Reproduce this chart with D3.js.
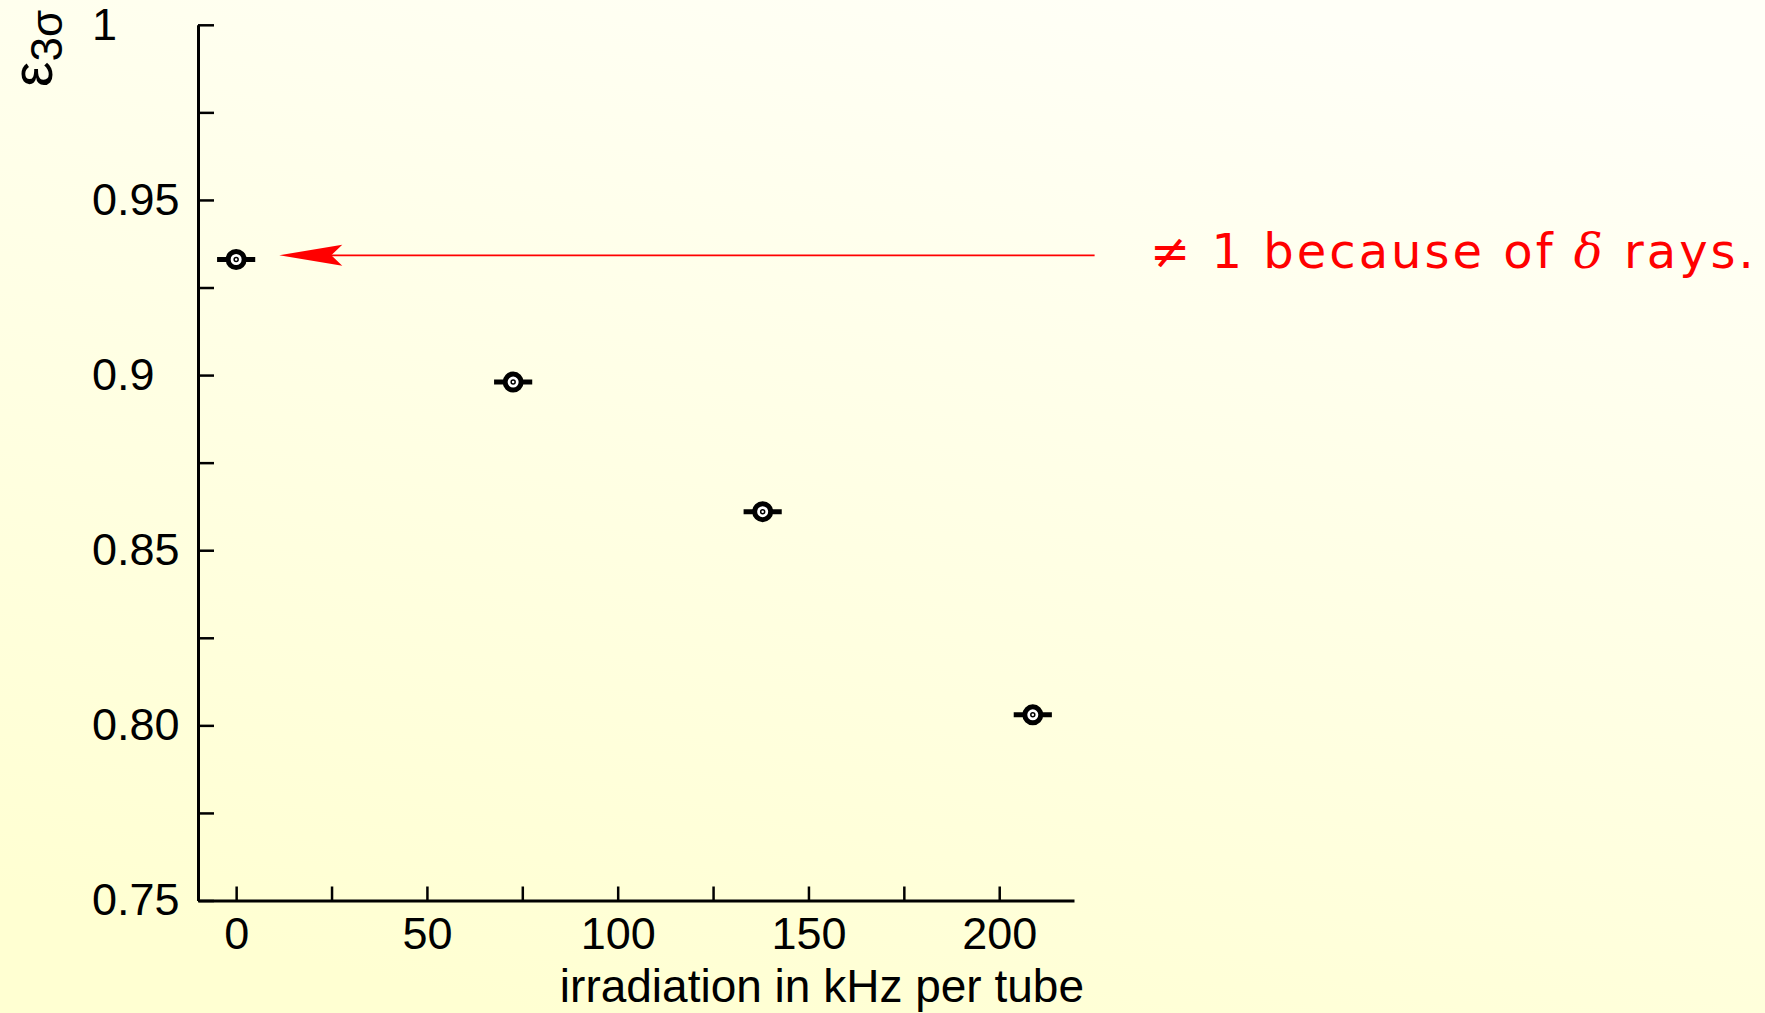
<!DOCTYPE html>
<html>
<head>
<meta charset="utf-8">
<script src="https://cdn.jsdelivr.net/npm/d3@7"></script>
<style>
  html, body { margin: 0; padding: 0; }
  svg { display: block; }
</style>
</head>
<body>
<div id="chart"></div>
<script>
// data
const irradiation = [0, 72.6, 138, 208.8];          // kHz per tube
const efficiency  = [0.933, 0.898, 0.861, 0.803];    // eps_3sigma
const xError      = [5, 5, 5, 5];

const xTicks = [0, 25, 50, 75, 100, 125, 150, 175, 200];
const yTicks = [0.75, 0.775, 0.8, 0.825, 0.85, 0.875, 0.9, 0.925, 0.95, 0.975, 1];
const yTickLabels = {0.75: "0.75", 0.8: "0.80", 0.85: "0.85", 0.9: "0.9", 0.95: "0.95", 1: "1"};

const note = { x1: 225, x2: 11.3, y: 0.9342 };

const W = 1765, H = 1013;
const svg = d3.select("#chart")
    .append("svg")
    .attr("width", W)
    .attr("height", H);

const defs = svg.append("defs");
const grad = defs.append("linearGradient")
    .attr("id", "bg")
    .attr("x1", "0.7").attr("y1", "0")
    .attr("x2", "0.3").attr("y2", "1");
grad.append("stop").attr("offset", "0%").attr("stop-color", "#fffff7");
grad.append("stop").attr("offset", "100%").attr("stop-color", "#ffffd2");

svg.append("rect")
    .attr("width", W).attr("height", H)
    .attr("fill", "url(#bg)");

const xScale = d3.scaleLinear()
    .domain([-10, 219.6])
    .range([198, 1074]);

const yScale = d3.scaleLinear()
    .domain([0.75, 1])
    .range([900.5, 24.8]);

const font = "'Liberation Sans', Arial, sans-serif";

// x axis, ticks pointing inward
const xAxis = svg.append("g")
    .attr("transform", `translate(0, ${yScale(0.75)})`)
    .call(d3.axisBottom(xScale)
        .tickValues(xTicks)
        .tickSizeInner(-14)
        .tickSizeOuter(0)
        .tickPadding(17)
        .tickFormat(d => d % 50 === 0 ? d : ""));

// y axis
const yAxis = svg.append("g")
    .attr("transform", `translate(${xScale(-10)}, 0)`)
    .call(d3.axisLeft(yScale)
        .tickValues(yTicks)
        .tickSizeInner(-16)
        .tickSizeOuter(0)
        .tickPadding(18)
        .tickFormat(d => yTickLabels[d] || ""));

[xAxis, yAxis].forEach(g => {
    g.select(".domain").attr("stroke", "black").attr("stroke-width", 3);
    g.selectAll(".tick line").attr("stroke", "black").attr("stroke-width", 2.5);
    g.selectAll(".tick text")
        .attr("fill", "black")
        .attr("font-size", "45px")
        .attr("font-family", font);
});

// y labels are left aligned in the original
yAxis.selectAll(".tick text")
    .attr("text-anchor", "start")
    .attr("x", -106);

svg.append("text")
    .text("irradiation in kHz per tube")
    .attr("x", 1084)
    .attr("y", 1002)
    .attr("text-anchor", "end")
    .attr("font-size", "46px")
    .attr("font-family", font)
    .attr("fill", "black");

// y label: epsilon_3sigma, rotated
const yLab = svg.append("text")
    .attr("transform", "translate(52, 87) rotate(-90)")
    .attr("font-family", font)
    .attr("fill", "black");
yLab.append("tspan").attr("font-size", "57px").text("ε");
yLab.append("tspan").attr("font-size", "44px").attr("dy", 10).text("3σ");

// points with horizontal error bars
const pts = svg.append("g")
    .selectAll("g")
    .data(irradiation.map((x, i) => ({ x: x, y: efficiency[i], e: xError[i] })))
    .join("g");

pts.append("line")
    .attr("x1", d => xScale(d.x - d.e))
    .attr("x2", d => xScale(d.x + d.e))
    .attr("y1", d => yScale(d.y))
    .attr("y2", d => yScale(d.y))
    .attr("stroke", "black")
    .attr("stroke-width", 5);

pts.append("circle")
    .attr("cx", d => xScale(d.x))
    .attr("cy", d => yScale(d.y))
    .attr("r", 8)
    .attr("fill", "white")
    .attr("stroke", "black")
    .attr("stroke-width", 5);

pts.append("circle")
    .attr("cx", d => xScale(d.x))
    .attr("cy", d => yScale(d.y))
    .attr("r", 2)
    .attr("fill", "white")
    .attr("stroke", "black")
    .attr("stroke-width", 1.5);

// red annotation arrow
const ay = yScale(note.y);
const tip = xScale(note.x2);
svg.append("line")
    .attr("x1", xScale(note.x1))
    .attr("x2", tip + 50)
    .attr("y1", ay)
    .attr("y2", ay)
    .attr("stroke", "red")
    .attr("stroke-width", 1.8);

svg.append("path")
    .attr("d", `M${tip},${ay} L${tip + 63},${ay - 10.5} L${tip + 52},${ay} L${tip + 63},${ay + 10.5} Z`)
    .attr("fill", "red");

const noteText = svg.append("text")
    .attr("x", 1150)
    .attr("y", 268)
    .attr("font-size", "48px")
    .attr("letter-spacing", "3px")
    .attr("font-family", "'DejaVu Sans', sans-serif")
    .attr("fill", "red");
noteText.append("tspan").text("≠ 1 because of ");
noteText.append("tspan")
    .attr("font-family", "'DejaVu Serif', serif")
    .attr("font-style", "italic")
    .text("δ");
noteText.append("tspan").text(" rays.");
</script>
</body>
</html>
